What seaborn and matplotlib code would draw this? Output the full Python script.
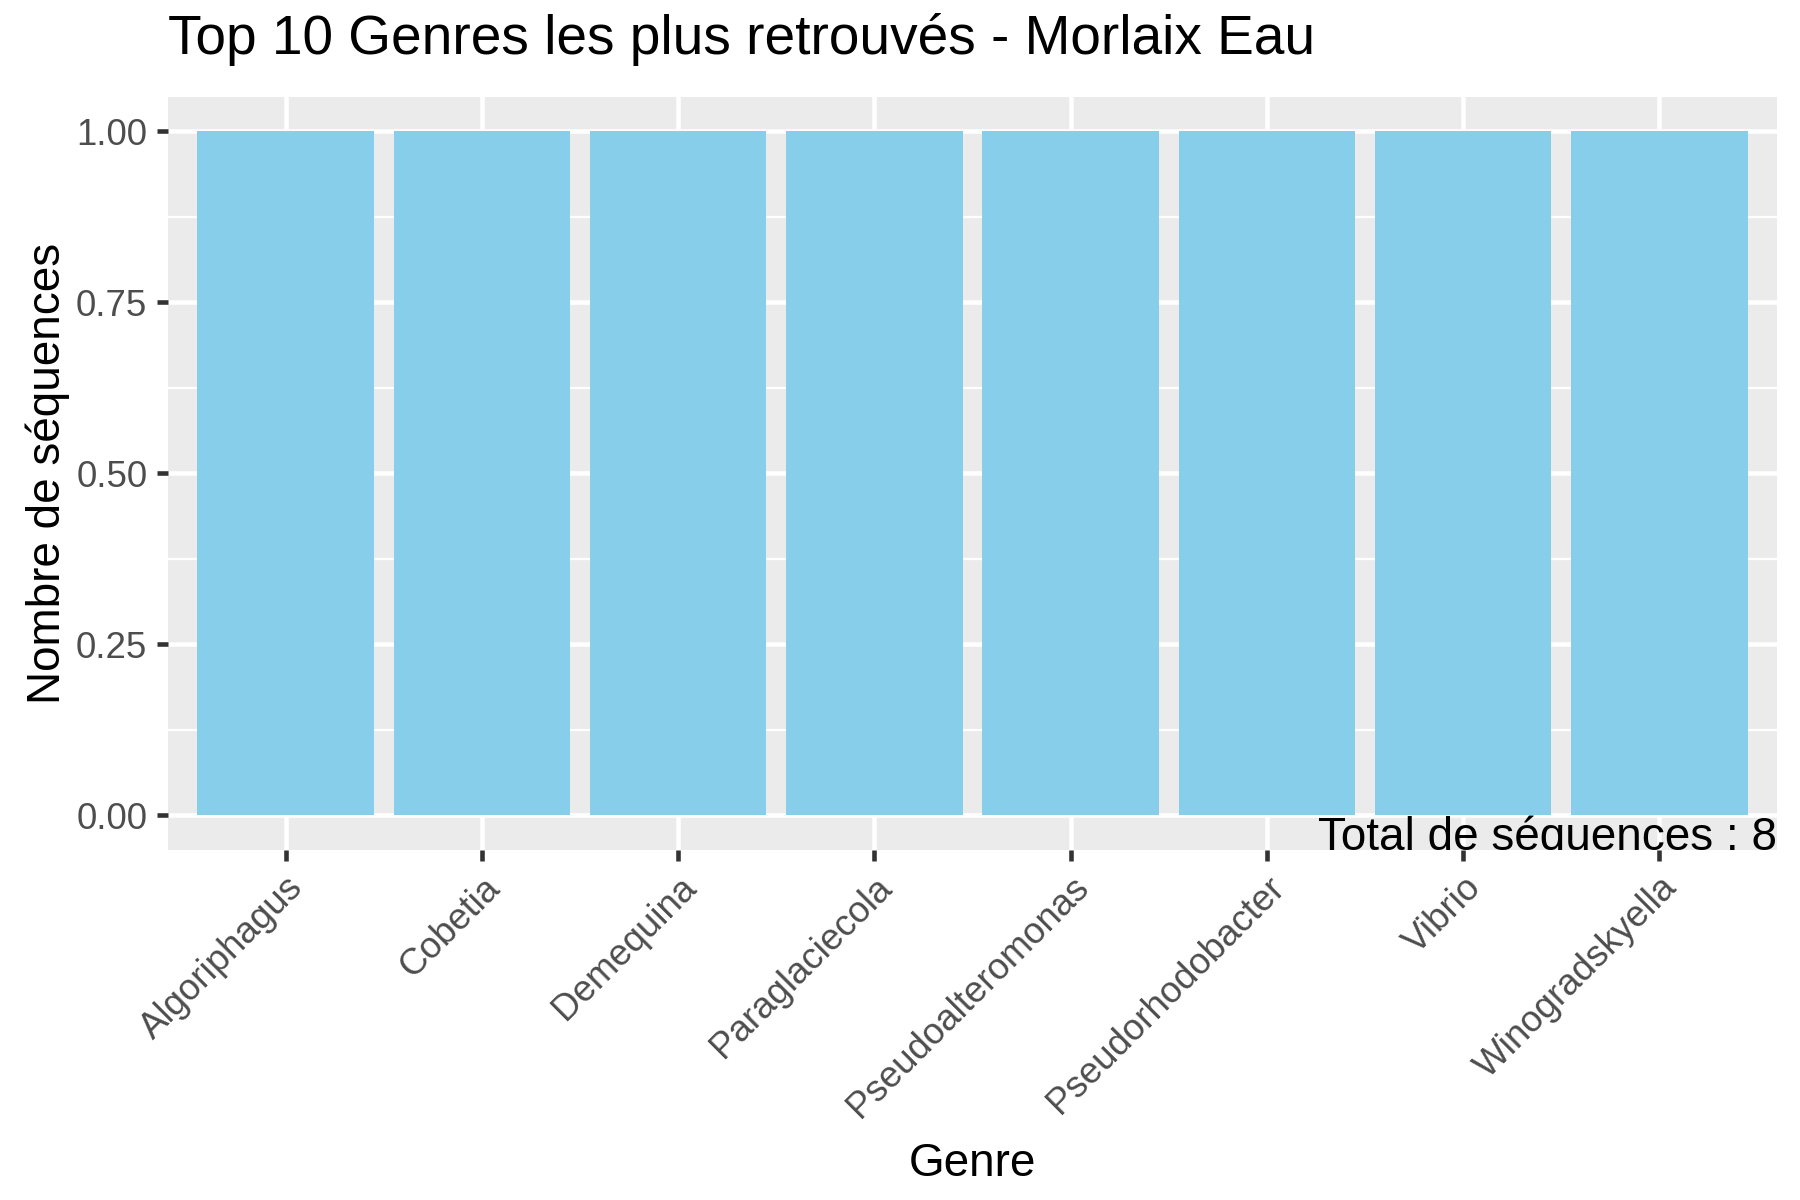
import pandas as pd
import matplotlib.pyplot as plt
import seaborn as sns
from matplotlib.ticker import MultipleLocator

genres = ["Algoriphagus", "Cobetia", "Demequina", "Paraglaciecola",
          "Pseudoalteromonas", "Pseudorhodobacter", "Vibrio", "Winogradskyella"]
nb_sequences = [1, 1, 1, 1, 1, 1, 1, 1]
total = 8

df = pd.DataFrame({"Genre": genres, "n": nb_sequences})

sns.set_theme(style="darkgrid", rc={"axes.facecolor": "#EBEBEB", "grid.color": "white"})
plt.rcParams["font.family"] = ["Liberation Sans", "DejaVu Sans"]

fig = plt.figure(figsize=(6, 4), dpi=300)
ax = fig.add_axes([0.0933, 0.292, 0.894, 0.627])

sns.barplot(x="Genre", y="n", data=df, color="#87CEEB", width=0.9,
            saturation=1, linewidth=0, edgecolor="none", ax=ax, zorder=3)

ax.set_xlim(-0.6, len(genres) - 0.4)
ax.set_ylim(-0.05, 1.05)
ax.yaxis.set_minor_locator(MultipleLocator(0.125))
ax.set_yticks([0, 0.25, 0.5, 0.75, 1.0])
ax.set_yticklabels(["0.00", "0.25", "0.50", "0.75", "1.00"])
ax.grid(which="major", color="white", linewidth=1.1, zorder=0)
ax.grid(which="minor", axis="y", color="white", linewidth=0.55, zorder=0)
ax.set_axisbelow(True)
for s in ax.spines.values():
    s.set_visible(False)

ax.tick_params(axis="both", which="major", length=2.75, width=1.1, color="#333333",
               labelsize=8.8, labelcolor="#4D4D4D", pad=2.2, left=True, bottom=True)
ax.tick_params(axis="both", which="minor", length=0)
plt.setp(ax.get_xticklabels(), rotation=45, ha="right", rotation_mode="anchor")

ax.set_xlabel("Genre", fontsize=11, color="black", labelpad=4)
ax.set_ylabel("Nombre de séquences", fontsize=11, color="black", labelpad=1.5)
fig.text(0.0933, 0.955, "Top 10 Genres les plus retrouvés - Morlaix Eau",
         fontsize=13.2, color="black", ha="left", va="baseline")

ax.text(1.0, 0.0, f"Total de séquences : {total}", transform=ax.transAxes,
        ha="right", va="baseline", fontsize=11, color="black", clip_on=True, zorder=5)

plt.savefig("out.png", dpi=300)
plt.close()
